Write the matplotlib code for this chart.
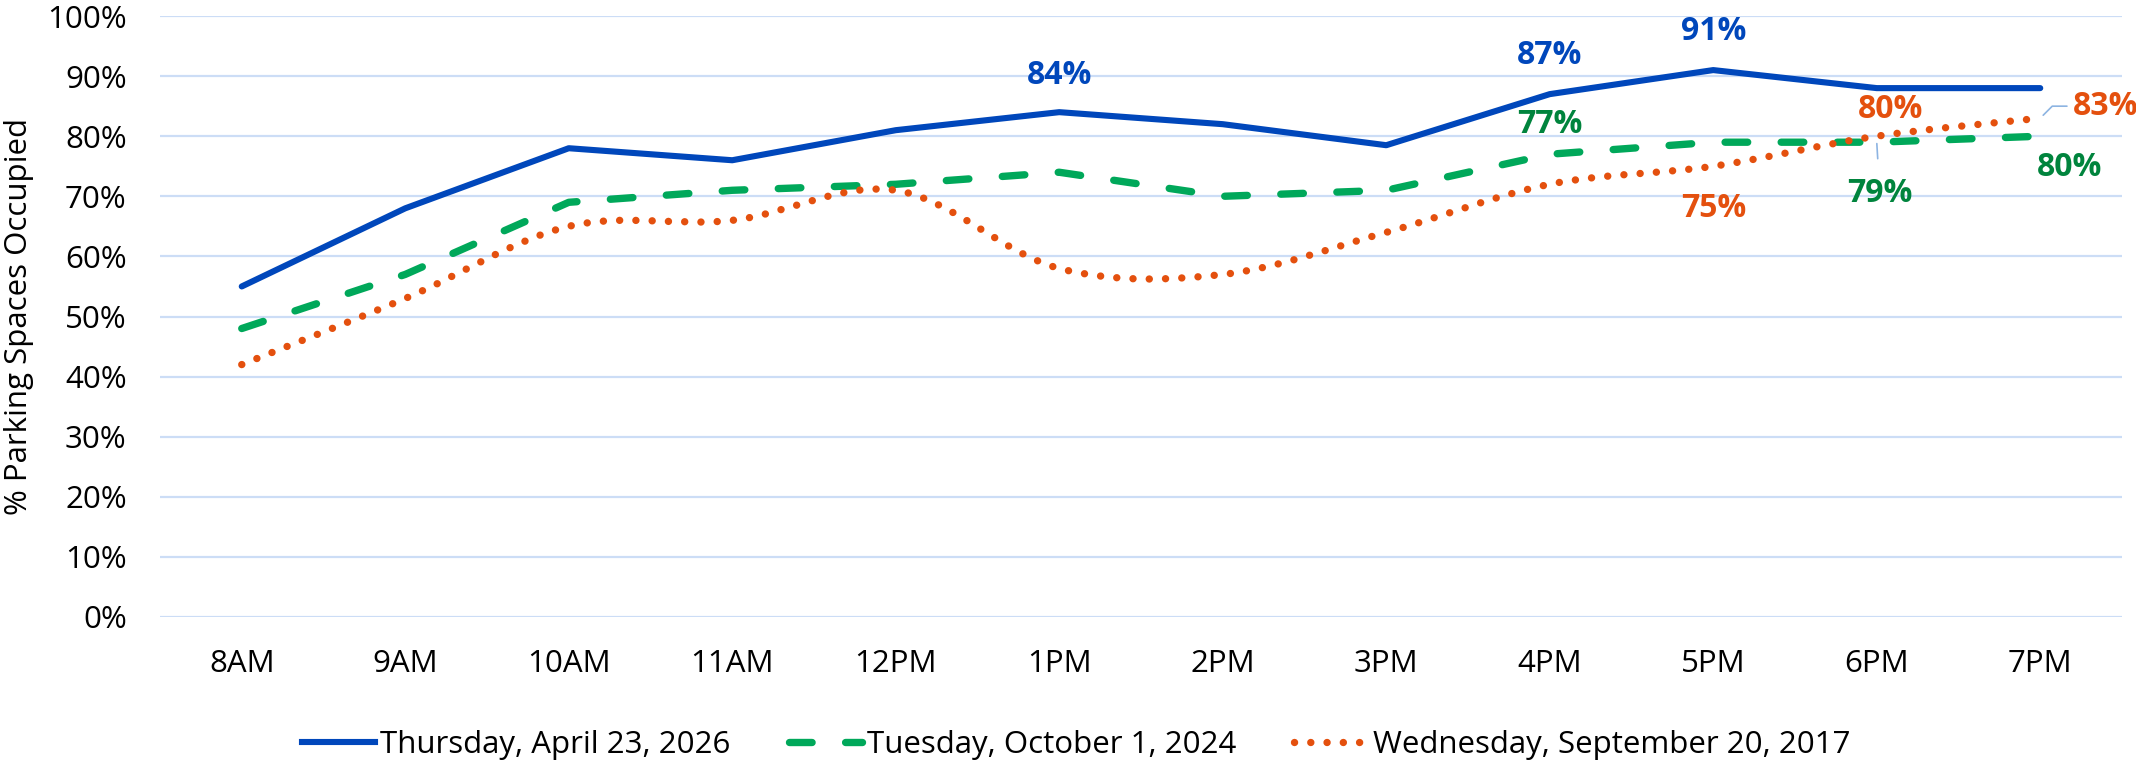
import numpy as np
import matplotlib.pyplot as plt
from matplotlib.path import Path
from matplotlib.patches import PathPatch
from matplotlib.lines import Line2D

# data
hours = ["8AM", "9AM", "10AM", "11AM", "12PM", "1PM", "2PM", "3PM", "4PM", "5PM", "6PM", "7PM"]
thu_2026 = [55, 68, 78, 76, 81, 84, 82, 78.5, 87, 91, 88, 88]
tue_2024 = [48, 57, 69, 71, 72, 74, 70, 71, 77, 79, 79, 80]
wed_2017 = [42, 53, 65, 66, 71, 58, 57, 64, 72, 75, 80, 83]

series_names = ["Thursday, April 23, 2026", "Tuesday, October 1, 2024", "Wednesday, September 20, 2017"]

blue = "#0047BB"
green = "#00A85A"
green_text = "#00843D"
orange = "#E4500E"
grid_col = "#CCDDF6"
leader_col = "#8DB4E2"

plt.rcParams["font.family"] = ["Open Sans", "DejaVu Sans"]
FS = 22.5
LFS = 23


def smooth_path(xs, ys):
    # Excel-style smoothed line: cubic bezier segments through the points
    pts = np.column_stack([xs, ys]).astype(float)
    n = len(pts)
    verts = [pts[0]]
    codes = [Path.MOVETO]
    for i in range(n - 1):
        p0 = pts[max(i - 1, 0)]
        p1 = pts[i]
        p2 = pts[i + 1]
        p3 = pts[min(i + 2, n - 1)]
        verts += [p1 + (p2 - p0) / 6, p2 - (p3 - p1) / 6, p2]
        codes += [Path.CURVE4] * 3
    return Path(verts, codes)


fig = plt.figure(figsize=(21.36, 7.65), dpi=100)
ax = fig.add_axes([160 / 2136, 1 - 617 / 765, 1962 / 2136, 601 / 765])

x = np.arange(len(hours))

green_dash = (0, (3.07, 4.55))
orange_dot = (0, (0.01, 2.2))

ax.plot(x, thu_2026, color=blue, lw=4.4, solid_capstyle="round", solid_joinstyle="round", zorder=3)
ax.plot(x, tue_2024, color=green, lw=5.3, linestyle=green_dash, dash_capstyle="round", zorder=3)
ax.add_patch(PathPatch(smooth_path(x, wed_2017), facecolor="none", edgecolor=orange, lw=5.3,
                       linestyle=orange_dot, capstyle="round", zorder=3))

# data labels (offsets in pixels)
labels = [
    (thu_2026, 5, 0, 37, blue),
    (thu_2026, 8, 0, 39, blue),
    (thu_2026, 9, 0, 39, blue),
    (tue_2024, 8, 0, 30, green_text),
    (tue_2024, 11, 29, -31, green_text),
    (wed_2017, 9, 0, -42, orange),
    (wed_2017, 10, 14, 27, orange),
]
for vals, i, dx, dy, col in labels:
    ax.annotate(f"{vals[i]:.0f}%", (x[i], vals[i]), xytext=(dx, dy), textcoords="offset pixels",
                ha="center", va="center", fontsize=LFS, fontweight="bold", color=col)

# labels with leader lines
ax.annotate(f"{tue_2024[10]:.0f}%", (x[10], tue_2024[10]), xytext=(3, -51), textcoords="offset pixels",
            ha="center", va="center", fontsize=LFS, fontweight="bold", color=green_text,
            arrowprops=dict(arrowstyle="-", color=leader_col, lw=1.2, shrinkA=11, shrinkB=1))
ax.annotate(f"{wed_2017[11]:.0f}%", (x[11], wed_2017[11]), xytext=(65, 12), textcoords="offset pixels",
            ha="center", va="center", fontsize=LFS, fontweight="bold", color=orange,
            arrowprops=dict(arrowstyle="-", color=leader_col, lw=1.2, shrinkA=2, shrinkB=3,
                            connectionstyle="angle,angleA=0,angleB=45,rad=0"))

ax.set_xlim(-0.5, len(hours) - 0.5)
ax.set_ylim(0, 100)
ax.set_xticks(x)
ax.set_xticklabels(hours)
ax.set_yticks(np.arange(0, 101, 10))
ax.set_yticklabels([f"{v}%" for v in range(0, 101, 10)])
ax.tick_params(length=0, labelsize=FS, colors="black")
ax.tick_params(axis="x", pad=23)
ax.tick_params(axis="y", pad=24)
ax.grid(axis="y", color=grid_col, lw=1.6)
ax.set_axisbelow(True)
for s in ax.spines.values():
    s.set_visible(False)

ax.set_ylabel("% Parking Spaces Occupied", fontsize=FS)
ax.yaxis.set_label_coords(-0.064, 0.5)

handles = [
    Line2D([], [], color=blue, lw=4.4),
    Line2D([], [], color=green, lw=5.3, linestyle=green_dash, dash_capstyle="round"),
    Line2D([], [], color=orange, lw=5.3, linestyle=orange_dot, dash_capstyle="round"),
]
fig.legend(handles, series_names, loc="center left", bbox_to_anchor=(302 / 2136, 0.026), ncol=3,
           frameon=False, fontsize=FS, handlelength=2.35, handletextpad=0.16, columnspacing=1.85,
           borderpad=0, borderaxespad=0)

fig.savefig("out.png", dpi=100)
